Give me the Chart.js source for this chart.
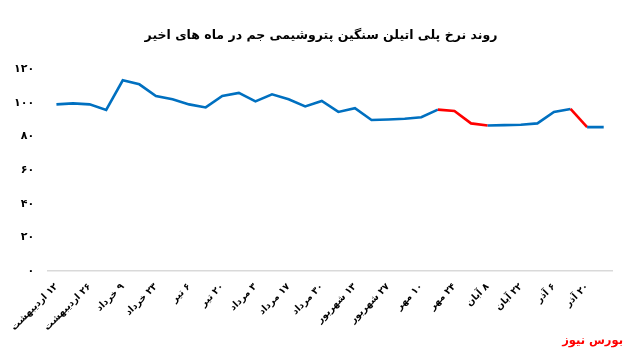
<!DOCTYPE html>
<html lang="fa">
<head>
<meta charset="utf-8">
<script src="https://cdn.jsdelivr.net/npm/chart.js@4.4.0/dist/chart.umd.min.js"></script>
<style>
  html, body { margin: 0; padding: 0; background: #fff; }
  #wrap { position: relative; width: 626px; height: 353px; }
  #title { position: absolute; left: 0; width: 642px; top: 27px; text-align: center; color: #000; font: bold 12.5px "DejaVu Sans", sans-serif; direction: rtl; }
  #brand { position: absolute; right: 3px; bottom: 6px; color: #ff0000; font: bold 11.5px "DejaVu Sans", sans-serif; direction: rtl; }
</style>
</head>
<body>
<div id="wrap">
  <canvas id="c" width="626" height="353" dir="rtl"></canvas>
  <div id="title"></div>
  <div id="brand">بورس نیوز</div>
</div>
<script>
const titleText = 'روند نرخ پلی اتیلن سنگین پتروشیمی جم در ماه های اخیر';

const categories = [
  '۱۲ اردیبهشت', '۱۹ اردیبهشت', '۲۶ اردیبهشت', '۲ خرداد', '۹ خرداد', '۱۶ خرداد',
  '۲۳ خرداد', '۳۰ خرداد', '۶ تیر', '۱۳ تیر', '۲۰ تیر', '۲۷ تیر',
  '۳ مرداد', '۱۰ مرداد', '۱۷ مرداد', '۲۴ مرداد', '۳۰ مرداد', '۶ شهریور',
  '۱۳ شهریور', '۲۰ شهریور', '۲۷ شهریور', '۳ مهر', '۱۰ مهر', '۱۷ مهر',
  '۲۴ مهر', '۱ آبان', '۸ آبان', '۱۵ آبان', '۲۲ آبان', '۲۹ آبان',
  '۶ آذر', '۱۳ آذر', '۲۰ آذر', '۲۷ آذر'
];

const prices = [
  99.0, 99.6, 99.0, 95.7, 113.3, 110.9, 104.0, 102.0, 99.0, 97.2,
  104.0, 105.8, 100.8, 105.0, 102.0, 97.8, 101.0, 94.5, 96.7, 89.7,
  90.0, 90.5, 91.4, 95.9, 95.1, 87.7, 86.5, 86.7, 86.9, 87.7,
  94.5, 96.3, 85.5, 85.5
];

// indices of segments (start point) that are highlighted as declines
const highlightedSegments = [23, 24, 25, 31];

const yTicks = [0, 20, 40, 60, 80, 100, 120];

const faDigits = s => String(s).replace(/\d/g, d => '۰۱۲۳۴۵۶۷۸۹'[d]);

document.getElementById('title').textContent = titleText;

new Chart(document.getElementById('c'), {
  type: 'line',
  data: {
    labels: categories,
    datasets: [{
      data: prices,
      borderColor: '#0070c0',
      borderWidth: 2.6,
      pointRadius: 0,
      tension: 0,
      segment: {
        borderColor: ctx => highlightedSegments.includes(ctx.p0DataIndex) ? '#ff0000' : '#0070c0'
      }
    }]
  },
  options: {
    responsive: false,
    animation: false,
    layout: { padding: { left: 0, right: 14, top: 69, bottom: 10 } },
    plugins: {
      legend: { display: false },
      tooltip: { enabled: false },
      title: { display: false }
    },
    scales: {
      x: {
        offset: true,
        grid: { display: false, drawTicks: false },
        border: { display: true, color: '#d9d9d9', width: 1.5 },
        ticks: {
          autoSkip: false,
          maxRotation: 45,
          minRotation: 45,
          padding: 10,
          color: '#000',
          font: { family: 'DejaVu Sans', size: 9.5, weight: 'bold' },
          callback: (v, i) => (i % 2 === 0 ? categories[i] : '')
        }
      },
      y: {
        min: 0,
        max: 120,
        afterBuildTicks: axis => { axis.ticks = yTicks.map(v => ({ value: v })); },
        grid: { display: false, drawTicks: false },
        border: { display: false },
        ticks: {
          padding: 14,
          color: '#000',
          font: { family: 'DejaVu Sans', size: 11, weight: 'bold' },
          callback: v => faDigits(v)
        }
      }
    }
  }
});
</script>
</body>
</html>
